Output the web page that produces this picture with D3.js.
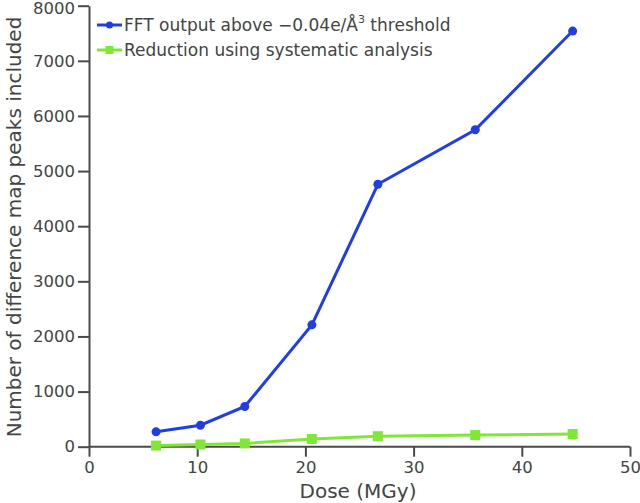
<!DOCTYPE html>
<html>
<head>
<meta charset="utf-8">
<script src="https://cdn.jsdelivr.net/npm/d3@7"></script>
<style>
body { margin: 0; background: #fff; }
text { font-family: "DejaVu Sans", sans-serif; fill: #444; }
</style>
</head>
<body>
<script>
// dose values (MGy), shared by both series
var doses = [6.2, 10.3, 14.4, 20.6, 26.7, 35.7, 44.7];
var fftPeaks = [270, 390, 730, 2210, 4760, 5750, 7540];
var reducedPeaks = [20, 40, 60, 140, 190, 210, 230];
var xTicks = [0, 10, 20, 30, 40, 50];
var yTicks = [0, 1000, 2000, 3000, 4000, 5000, 6000, 7000, 8000];

var width = 640, height = 503;
var margin = {top: 6, right: 10, bottom: 56, left: 89};

var svg = d3.select("body").append("svg")
	.attr("width", width)
	.attr("height", height);

var x = d3.scaleLinear().domain([0, 50]).range([margin.left, 630]);
var y = d3.scaleLinear().domain([0, 8000]).range([446.7, 5.7]);

// axes
var xAxis = svg.append("g")
	.attr("transform", "translate(0," + y(0) + ")")
	.call(d3.axisBottom(x).tickValues(xTicks).tickFormat(d3.format("d"))
		.tickSize(10).tickPadding(5).tickSizeOuter(0));
var yAxis = svg.append("g")
	.attr("transform", "translate(" + x(0) + ",0)")
	.call(d3.axisLeft(y).tickValues(yTicks).tickFormat(d3.format("d"))
		.tickSize(11).tickPadding(3).tickSizeOuter(0));

[xAxis, yAxis].forEach(function(a){
	a.select(".domain").attr("stroke", "#4a4a4a").attr("stroke-width", 2);
	a.selectAll(".tick line").attr("stroke", "#4a4a4a").attr("stroke-width", 2);
	a.selectAll(".tick text").attr("font-size", 16.5).attr("fill", "#555")
		.style("font-family", "DejaVu Sans, sans-serif");
});
// keep the top label inside the picture
yAxis.selectAll(".tick text").filter(function(d){ return d === 8000; }).attr("dy", "0.5em");
// extend x-axis line left so it meets the 0 tick
xAxis.select(".domain").attr("d", "M" + x(0) + ",0H" + x(50));

// axis labels
svg.append("text")
	.attr("x", 358)
	.attr("y", 498)
	.attr("text-anchor", "middle")
	.attr("font-size", 20)
	.text("Dose (MGy)");

svg.append("text")
	.attr("transform", "translate(21," + 227 + ") rotate(-90)")
	.attr("text-anchor", "middle")
	.attr("font-size", 20)
	.text("Number of difference map peaks included");

var blue = "#1f3ee6", green = "#7fe837";

var line = function(vals){
	return d3.line()
		.x(function(d, i){ return x(doses[i]); })
		.y(function(d){ return y(d); })(vals);
};

// green series
svg.append("path")
	.attr("d", line(reducedPeaks))
	.attr("fill", "none")
	.attr("stroke", green)
	.attr("stroke-width", 3);
svg.selectAll(".sq")
	.data(reducedPeaks)
	.enter().append("rect")
	.attr("x", function(d, i){ return x(doses[i]) - 5; })
	.attr("y", function(d){ return y(d) - 5; })
	.attr("width", 10)
	.attr("height", 10)
	.attr("fill", green);

// blue series
svg.append("path")
	.attr("d", line(fftPeaks))
	.attr("fill", "none")
	.attr("stroke", blue)
	.attr("stroke-width", 3);
svg.selectAll(".dot")
	.data(fftPeaks)
	.enter().append("circle")
	.attr("cx", function(d, i){ return x(doses[i]); })
	.attr("cy", function(d){ return y(d); })
	.attr("r", 4.5)
	.attr("fill", blue);

// legend
var legend = svg.append("g");
legend.append("line").attr("x1", 97).attr("x2", 122).attr("y1", 25).attr("y2", 25)
	.attr("stroke", blue).attr("stroke-width", 3);
legend.append("circle").attr("cx", 109.5).attr("cy", 25).attr("r", 3.5).attr("fill", blue);
var t1 = legend.append("text").attr("x", 124).attr("y", 31).attr("font-size", 17).attr("fill", "#222");
t1.append("tspan").text("FFT output above \u22120.04e/\u00c5");
t1.append("tspan").attr("dy", -8).attr("font-size", 11).text("3");
t1.append("tspan").attr("dy", 8).text(" threshold");

legend.append("line").attr("x1", 97).attr("x2", 122).attr("y1", 50).attr("y2", 50)
	.attr("stroke", green).attr("stroke-width", 3);
legend.append("rect").attr("x", 105.5).attr("y", 46).attr("width", 8).attr("height", 8).attr("fill", green);
legend.append("text").attr("x", 124).attr("y", 56).attr("font-size", 17).attr("fill", "#222")
	.text("Reduction using systematic analysis");
</script>
</body>
</html>
